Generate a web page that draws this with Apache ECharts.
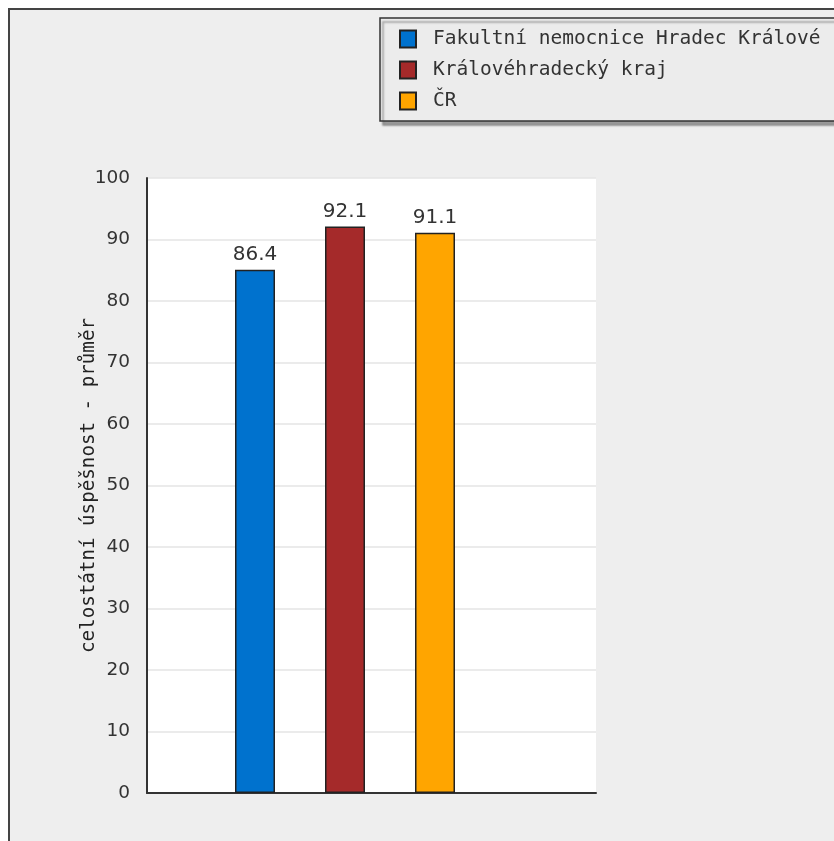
<!DOCTYPE html>
<html>
<head>
<meta charset="utf-8">
<script src="https://cdn.jsdelivr.net/npm/echarts@6/dist/echarts.min.js"></script>
<style>
html,body{margin:0;padding:0;background:#fff;}
#chart{width:834px;height:841px;}
</style>
</head>
<body>
<div id="chart"></div>
<script>
var seriesNames = ['Fakultní nemocnice Hradec Králové', 'Královéhradecký kraj', 'ČR'];
var seriesValues = [85.1, 92.1, 91.1];
var valueLabels = ['86.4', '92.1', '91.1'];
var seriesColors = ['#0072ce', '#a52a2a', '#ffa500'];
var yTicks = [0, 10, 20, 30, 40, 50, 60, 70, 80, 90, 100];
var yAxisTitle = 'celostátní úspěšnost - průměr';

var chart = echarts.init(document.getElementById('chart'), null, {renderer: 'canvas'});

var series = seriesNames.map(function (name, i) {
  return {
    name: name,
    type: 'bar',
    xAxisIndex: 1,
    yAxisIndex: 1,
    data: [seriesValues[i]],
    barWidth: 40,
    barGap: '125%',
    itemStyle: {color: seriesColors[i], borderColor: '#222', borderWidth: 1.5},
    label: {
      show: true,
      position: 'top',
      distance: 5,
      formatter: function () { return valueLabels[i]; },
      fontFamily: 'DejaVu Sans',
      fontSize: 20,
      color: '#333'
    }
  };
});

chart.setOption({
  animation: false,
  backgroundColor: '#ffffff',
  graphic: [{
    type: 'rect',
    z: -10,
    shape: {x: 9, y: 9, width: 900, height: 900},
    style: {fill: '#eeeeee', stroke: '#444', lineWidth: 2}
  }],
  legend: {
    left: 380,
    top: 18,
    orient: 'vertical',
    data: seriesNames,
    icon: 'rect',
    itemWidth: 16,
    itemHeight: 17,
    itemGap: 11,
    padding: [11, 40, 10, 19],
    backgroundColor: '#ececec',
    borderColor: '#333',
    borderWidth: 1.5,
    shadowColor: 'rgba(0,0,0,0.35)',
    shadowOffsetX: 3,
    shadowOffsetY: 4,
    shadowBlur: 2,
    textStyle: {fontFamily: 'DejaVu Sans Mono', fontSize: 19.5, color: '#333', padding: [0, 0, 0, 12]}
  },
  grid: [
    {left: 147, top: 178, width: 449, height: 615, show: true, backgroundColor: '#ffffff', borderWidth: 0},
    {left: 147, top: 178, width: 396, height: 615}
  ],
  xAxis: [
    {type: 'category', gridIndex: 0, data: [''], axisLine: {lineStyle: {color: '#333', width: 2}}, axisTick: {show: false}, axisLabel: {show: false}},
    {type: 'category', gridIndex: 1, data: [''], show: false}
  ],
  yAxis: [
    {
      type: 'value', gridIndex: 0, min: yTicks[0], max: yTicks[yTicks.length - 1], interval: 10,
      axisLine: {show: true, lineStyle: {color: '#333', width: 2}},
      axisTick: {show: false},
      axisLabel: {fontFamily: 'DejaVu Sans', fontSize: 18.5, color: '#333', margin: 17},
      splitLine: {lineStyle: {color: '#e4e4e4', width: 1.5}},
      name: yAxisTitle,
      nameLocation: 'middle',
      nameGap: 48,
      nameMoveOverlap: false,
      nameTextStyle: {fontFamily: 'DejaVu Sans Mono', fontSize: 19.2, color: '#222'}
    },
    {type: 'value', gridIndex: 1, min: 0, max: 100, show: false}
  ],
  series: series
});
</script>
</body>
</html>
